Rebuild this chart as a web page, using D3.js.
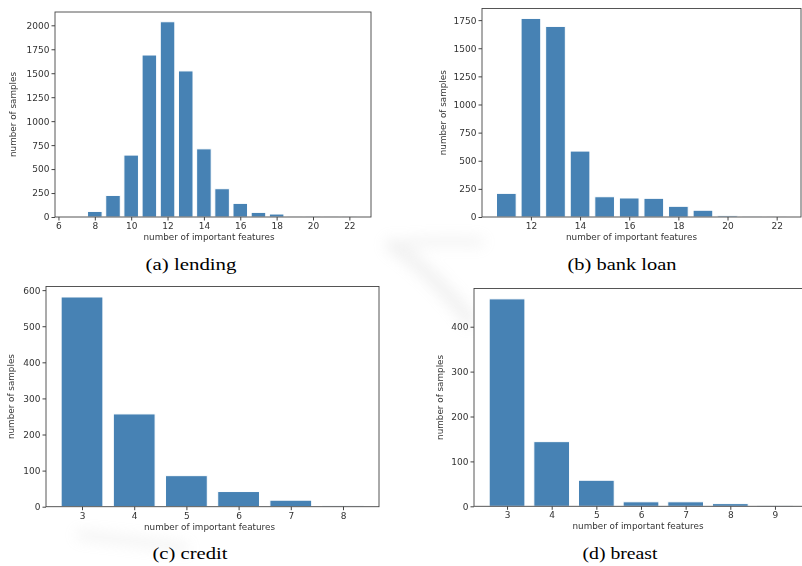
<!DOCTYPE html>
<html>
<head>
<meta charset="utf-8">
<script src="https://cdn.jsdelivr.net/npm/d3@7"></script>
<style>
  body { margin: 0; background: #fff; }
  svg { display: block; }
  .tick text { font-family: "DejaVu Sans", sans-serif; font-size: 9px; fill: #333; }
  .tick line { stroke: #444; }
  .axlabel { font-family: "DejaVu Sans", sans-serif; font-size: 8.8px; fill: #333; }
  .caption { font-family: "Liberation Serif", "Times New Roman", serif; font-size: 17.5px; fill: #000; }
</style>
</head>
<body>
<svg id="fig" width="802" height="566"></svg>
<script>
// counts per number of important features
var lendingX = [7, 8, 9, 10, 11, 12, 13, 14, 15, 16, 17, 18, 19, 20, 21, 22];
var lendingN = [0, 58, 225, 646, 1690, 2037, 1524, 711, 295, 142, 48, 31, 4, 2, 1, 1];
var lendingXTicks = [6, 8, 10, 12, 14, 16, 18, 20, 22];
var lendingYTicks = [0, 250, 500, 750, 1000, 1250, 1500, 1750, 2000];

var bankX = [11, 12, 13, 14, 15, 16, 17, 18, 19, 20, 21, 22];
var bankN = [210, 1765, 1694, 586, 180, 169, 166, 95, 60, 12, 2, 1];
var bankXTicks = [12, 14, 16, 18, 20, 22];
var bankYTicks = [0, 250, 500, 750, 1000, 1250, 1500, 1750];

var creditX = [3, 4, 5, 6, 7, 8];
var creditN = [581, 257, 86, 42, 18, 3];
var creditXTicks = [3, 4, 5, 6, 7, 8];
var creditYTicks = [0, 100, 200, 300, 400, 500, 600];

var breastX = [3, 4, 5, 6, 7, 8, 9];
var breastN = [462, 144, 58, 10, 10, 6, 1];
var breastXTicks = [3, 4, 5, 6, 7, 8, 9];
var breastYTicks = [0, 100, 200, 300, 400];

var svg = d3.select("#fig");
var defs = svg.append("defs");

// soft blur, the source figure is an upscaled raster
defs.append("filter").attr("id", "soft")
  .append("feGaussianBlur").attr("stdDeviation", 0.45);
defs.append("filter").attr("id", "haze")
  .attr("x", "-50%").attr("y", "-50%").attr("width", "200%").attr("height", "200%")
  .append("feGaussianBlur").attr("stdDeviation", 7);

// faint watermark strokes behind the panels
var wm = svg.append("g").attr("filter", "url(#haze)").attr("fill", "none")
  .attr("stroke", "#bbb").attr("stroke-linecap", "round").attr("opacity", 0.2);
wm.append("path").attr("d", "M392,245 Q430,270 470,320").attr("stroke-width", 14);
wm.append("path").attr("d", "M80,535 Q130,540 185,548").attr("stroke-width", 8);
wm.append("path").attr("d", "M405,243 Q440,240 480,242").attr("stroke-width", 8);

var drawPanel = function (p) {
  var g = svg.append("g").attr("filter", "url(#soft)");

  // matplotlib style limits: 0.8 wide bars plus 5% margins
  var lo = d3.min(p.x) - 0.4, hi = d3.max(p.x) + 0.4, pad = (hi - lo) * 0.05;
  var x = d3.scaleLinear().domain([lo - pad, hi + pad]).range([p.left, p.right]);
  var y = d3.scaleLinear().domain([0, d3.max(p.n) * 1.05]).range([p.bottom, p.top]);

  g.append("rect")
    .attr("x", p.left).attr("y", p.top)
    .attr("width", p.right - p.left).attr("height", p.bottom - p.top)
    .attr("fill", "#fff");

  g.selectAll("rect.bar")
    .data(p.x.map(function (v, i) { return { x: v, n: p.n[i] }; }))
    .enter().append("rect")
    .attr("class", "bar")
    .attr("x", function (d) { return x(d.x - 0.4); })
    .attr("width", function (d) { return x(d.x + 0.4) - x(d.x - 0.4); })
    .attr("y", function (d) { return y(d.n); })
    .attr("height", function (d) { return y(0) - y(d.n); })
    .attr("fill", "#4682b4")
    .attr("stroke", "#fff")
    .attr("stroke-width", 1);

  g.append("rect")
    .attr("x", p.left).attr("y", p.top)
    .attr("width", p.right - p.left).attr("height", p.bottom - p.top)
    .attr("fill", "none").attr("stroke", "#444").attr("stroke-width", 0.9);

  g.append("g")
    .attr("transform", "translate(0," + p.bottom + ")")
    .call(d3.axisBottom(x).tickValues(p.xt).tickFormat(d3.format("d")).tickSizeOuter(0).tickSize(3.5).tickPadding(2))
    .call(function (a) { a.select(".domain").remove(); });

  g.append("g")
    .attr("transform", "translate(" + p.left + ",0)")
    .call(d3.axisLeft(y).tickValues(p.yt).tickFormat(d3.format("d")).tickSizeOuter(0).tickSize(3.5).tickPadding(2))
    .call(function (a) { a.select(".domain").remove(); });

  g.append("text").attr("class", "axlabel")
    .attr("x", (p.left + Math.min(p.right, 802)) / 2 - p.xlShift)
    .attr("y", p.bottom + 23)
    .attr("text-anchor", "middle")
    .text("number of important features");

  g.append("text").attr("class", "axlabel")
    .attr("transform", "translate(" + (p.left - p.ylOff) + "," + (p.top + p.bottom) / 2 + ") rotate(-90)")
    .attr("text-anchor", "middle")
    .text("number of samples");

  svg.append("text").attr("class", "caption")
    .attr("x", p.capX - p.capW / 2).attr("y", p.capY)
    .attr("textLength", p.capW).attr("lengthAdjust", "spacingAndGlyphs")
    .text(p.caption);
};

drawPanel({ x: lendingX, n: lendingN, xt: lendingXTicks, yt: lendingYTicks,
  left: 55, right: 371, top: 12, bottom: 217, ylOff: 39, xlShift: 4,
  caption: "(a) lending", capX: 191, capY: 270, capW: 91 });
drawPanel({ x: bankX, n: bankN, xt: bankXTicks, yt: bankYTicks,
  left: 482, right: 801, top: 8.5, bottom: 217, ylOff: 36, xlShift: 10,
  caption: "(b) bank loan", capX: 622, capY: 270, capW: 109 });
drawPanel({ x: creditX, n: creditN, xt: creditXTicks, yt: creditYTicks,
  left: 46, right: 379, top: 286.5, bottom: 506.7, ylOff: 32, xlShift: 3,
  caption: "(c) credit", capX: 190, capY: 559, capW: 75 });
drawPanel({ x: breastX, n: breastN, xt: breastXTicks, yt: breastYTicks,
  left: 474, right: 808, top: 288.5, bottom: 506.3, ylOff: 31, xlShift: 0,
  caption: "(d) breast", capX: 620, capY: 559, capW: 75 });
</script>
</body>
</html>
